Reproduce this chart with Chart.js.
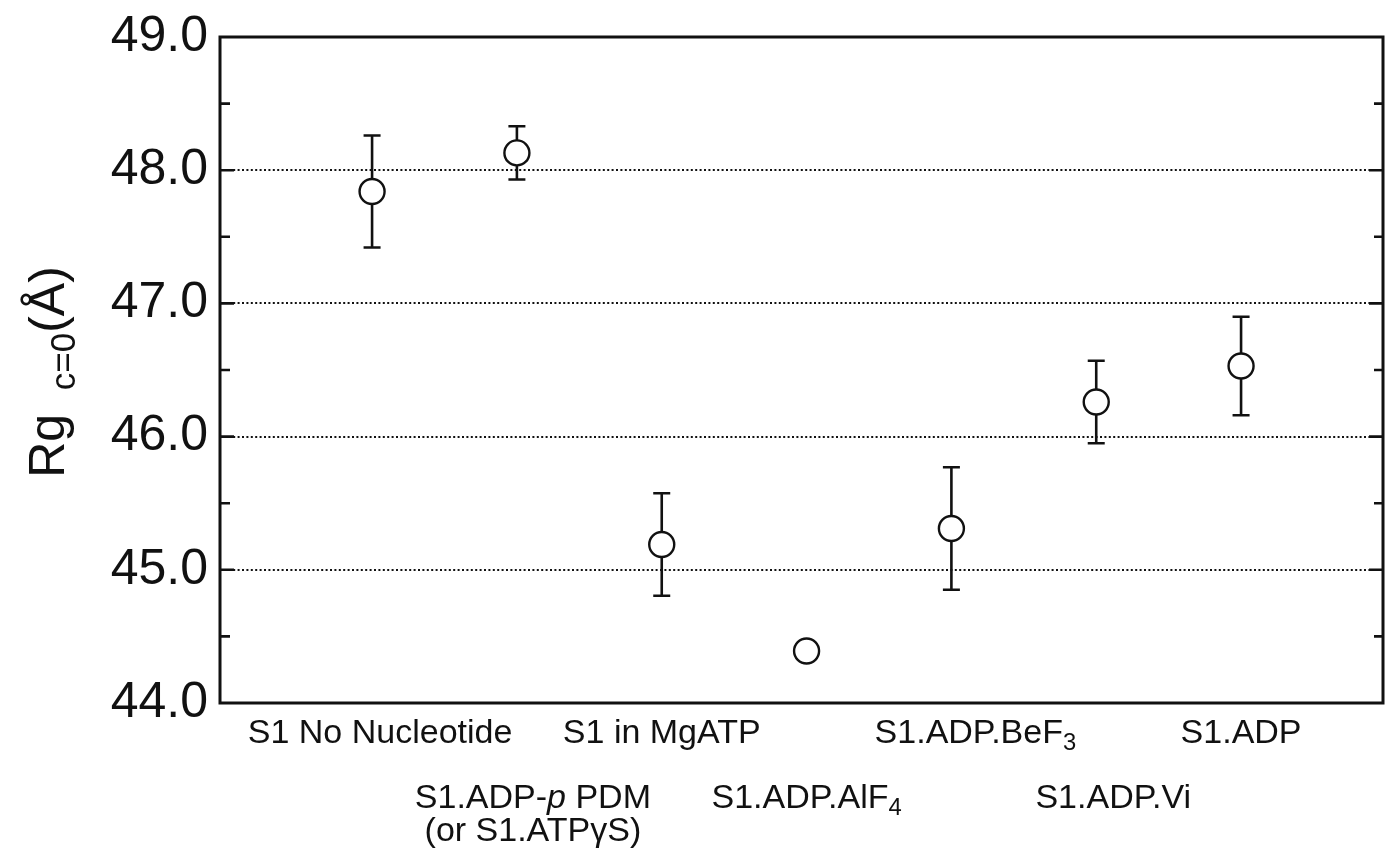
<!DOCTYPE html>
<html>
<head>
<meta charset="utf-8">
<title>Rg c=0 by nucleotide state</title>
<script src="https://cdn.jsdelivr.net/npm/chart.js@4"></script>
<style>
  html, body { margin: 0; padding: 0; background: #fff; overflow: hidden; }
  #wrap { position: relative; width: 1385px; height: 850px; }
</style>
</head>
<body>
<div id="wrap"><canvas id="rgChart"></canvas></div>
<script>
// Category labels: _{x} = subscript, /x/ = italic, | = line break
const categories = [
  'S1 No Nucleotide',
  'S1.ADP-/p/ PDM|(or S1.ATPγS)',
  'S1 in MgATP',
  'S1.ADP.AlF_{4}',
  'S1.ADP.BeF_{3}',
  'S1.ADP.Vi',
  'S1.ADP'
];
const rgValues = [47.84, 48.13, 45.19, 44.39, 45.31, 46.26, 46.53];
const rgErrors = [0.42, 0.20, 0.385, 0, 0.46, 0.31, 0.37];
const yTicks = [44, 45, 46, 47, 48, 49];
const yGridValues = [45, 46, 47, 48];
const yMinorTicks = [44.5, 45.5, 46.5, 47.5, 48.5];

const FONT = '"Liberation Sans", Arial, Helvetica, sans-serif';
const INK = '#111';

// split a label into plain / subscript / italic pieces
function parseRich(str) {
  return str.split(/(_\{[^}]*\}|\/[^\/]*\/)/).filter(Boolean).map(p => {
    if (p.startsWith('_{')) return { t: p.slice(2, -1), sub: true };
    if (p.length > 2 && p[0] === '/' && p[p.length - 1] === '/') return { t: p.slice(1, -1), italic: true };
    return { t: p };
  });
}

function segFont(seg, size) {
  const s = seg.sub ? size * 0.7 : size;
  return (seg.italic ? 'italic ' : '') + s + 'px ' + FONT;
}

// draws rich text centred on cx, with baseline at y
function drawRich(ctx, str, cx, y, size) {
  const segs = parseRich(str);
  let total = 0;
  segs.forEach(seg => {
    ctx.font = segFont(seg, size);
    seg.w = ctx.measureText(seg.t).width;
    total += seg.w;
  });
  let x = cx - total / 2;
  ctx.textAlign = 'left';
  ctx.textBaseline = 'alphabetic';
  segs.forEach(seg => {
    ctx.font = segFont(seg, size);
    ctx.fillText(seg.t, x, seg.sub ? y + size * 0.22 : y);
    x += seg.w;
  });
}

const points = rgValues.map((v, i) => ({ x: i + 1, y: v }));

// dotted grid + error bars under the markers
const underlayPlugin = {
  id: 'underlay',
  beforeDatasetsDraw(chart) {
    const { ctx, chartArea, scales } = chart;
    ctx.save();
    ctx.strokeStyle = INK;
    ctx.lineWidth = 2;
    ctx.setLineDash([2, 2.4]);
    yGridValues.forEach(v => {
      const py = Math.round(scales.y.getPixelForValue(v));
      ctx.beginPath();
      ctx.moveTo(chartArea.left, py);
      ctx.lineTo(chartArea.right, py);
      ctx.stroke();
    });
    ctx.setLineDash([]);
    ctx.lineWidth = 2.6;
    points.forEach((p, i) => {
      const e = rgErrors[i];
      if (!e) return;
      const px = scales.x.getPixelForValue(p.x);
      const yTop = scales.y.getPixelForValue(p.y + e);
      const yBot = scales.y.getPixelForValue(p.y - e);
      ctx.beginPath();
      ctx.moveTo(px, yTop); ctx.lineTo(px, yBot);
      ctx.moveTo(px - 8.5, yTop); ctx.lineTo(px + 8.5, yTop);
      ctx.moveTo(px - 8.5, yBot); ctx.lineTo(px + 8.5, yBot);
      ctx.stroke();
    });
    ctx.restore();
  }
};

// box frame, inward ticks, category labels and y title
const framePlugin = {
  id: 'frame',
  afterDatasetsDraw(chart, args, opts) {
    const { ctx, chartArea, scales } = chart;
    const { left, right, top, bottom } = chartArea;
    ctx.save();
    ctx.strokeStyle = INK;
    ctx.lineWidth = 3;
    ctx.strokeRect(left, top, right - left, bottom - top);

    ctx.lineWidth = 2.6;
    yGridValues.forEach(v => {
      const py = scales.y.getPixelForValue(v);
      ctx.beginPath();
      ctx.moveTo(left, py); ctx.lineTo(left + 14, py);
      ctx.moveTo(right, py); ctx.lineTo(right - 14, py);
      ctx.stroke();
    });
    yMinorTicks.forEach(v => {
      const py = scales.y.getPixelForValue(v);
      ctx.beginPath();
      ctx.moveTo(left, py); ctx.lineTo(left + 10, py);
      ctx.moveTo(right, py); ctx.lineTo(right - 9, py);
      ctx.stroke();
    });

    // category labels, alternating rows
    ctx.fillStyle = INK;
    categories.forEach((label, i) => {
      const px = scales.x.getPixelForValue(i + 1) + opts.labelShift[i];
      const rowY = opts.rowBaselines[opts.labelRow[i]];
      label.split('|').forEach((line, k) => {
        drawRich(ctx, line, px, rowY + k * 33, 34);
      });
    });

    // rotated y title
    ctx.translate(64, 372);
    ctx.rotate(-Math.PI / 2);
    drawRich(ctx, 'Rg _{ c=0}(Å)', 0, 0, 50);
    ctx.restore();
  }
};

new Chart(document.getElementById('rgChart'), {
  type: 'scatter',
  data: {
    datasets: [{
      label: 'Rg c=0',
      data: points,
      pointRadius: 12.5,
      pointHoverRadius: 12.5,
      pointBorderWidth: 2.4,
      borderColor: INK,
      backgroundColor: '#fff',
      pointBackgroundColor: '#fff'
    }]
  },
  options: {
    responsive: true,
    maintainAspectRatio: false,
    animation: false,
    events: [],
    layout: { autoPadding: false, padding: { top: 37, bottom: 147, right: 2, left: 0 } },
    plugins: {
      legend: { display: false },
      tooltip: { enabled: false },
      frame: {
        labelRow: [0, 1, 0, 1, 0, 1, 0],
        labelShift: [8, 16, 0, 0, 24, 17, 0],
        rowBaselines: [743, 808]
      }
    },
    scales: {
      x: {
        type: 'linear',
        min: -0.05,
        max: 7.98,
        display: false
      },
      y: {
        min: 44,
        max: 49,
        afterFit(scale) {
          scale.width = 220;
          scale.paddingTop = 0;
          scale.paddingBottom = 0;
        },
        afterBuildTicks(scale) { scale.ticks = yTicks.map(v => ({ value: v })); },
        grid: { display: false, drawTicks: false },
        border: { display: false },
        ticks: {
          padding: 12,
          color: INK,
          font: { family: FONT, size: 50 },
          callback: v => v.toFixed(1)
        }
      }
    }
  },
  plugins: [underlayPlugin, framePlugin]
});
</script>
</body>
</html>
